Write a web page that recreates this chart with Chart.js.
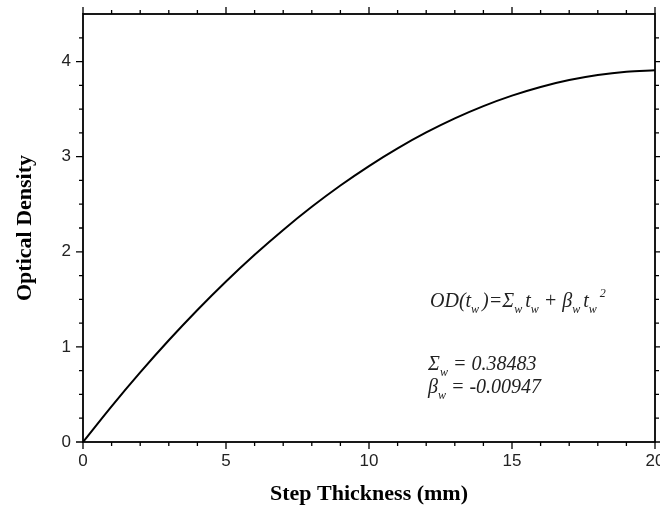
<!DOCTYPE html>
<html>
<head>
<meta charset="utf-8">
<script src="https://cdn.jsdelivr.net/npm/chart.js@4.4.1/dist/chart.umd.min.js"></script>
<style>
  html, body { margin: 0; padding: 0; background: #fff; }
  #wrap { width: 660px; height: 508px; }
</style>
</head>
<body>
<div id="wrap"><canvas id="odChart" width="660" height="508"></canvas></div>
<script>
// step thickness (mm) and measured optical density
const thickness = [0, 1, 2, 3, 4, 5, 6, 7, 8, 9, 10, 11, 12, 13, 14, 15, 16, 17, 18, 19, 20];
const density = [0, 0.3754, 0.7318, 1.0693, 1.3878, 1.6874, 1.9681, 2.2298, 2.4726, 2.6964,
  2.9013, 3.0873, 3.2543, 3.4024, 3.5315, 3.6417, 3.7330, 3.8053, 3.8587, 3.8931, 3.9086];

const xTicks = [0, 5, 10, 15, 20];
const yTicks = [0, 1, 2, 3, 4];
const xMinor = [1, 2, 3, 4, 6, 7, 8, 9, 11, 12, 13, 14, 16, 17, 18, 19];
const yMinor = [0.25, 0.5, 0.75, 1.25, 1.5, 1.75, 2.25, 2.5, 2.75, 3.25, 3.5, 3.75, 4.25];

const sigmaW = '0.38483';
const betaW = '-0.00947';

const points = thickness.map((t, i) => ({ x: t, y: density[i] }));

// frame with outward ticks on all four sides
const framePlugin = {
  id: 'frame',
  afterDraw(chart) {
    const { ctx, chartArea: a, scales: { x, y } } = chart;
    ctx.save();
    ctx.strokeStyle = '#000';
    ctx.lineWidth = 1.8;
    ctx.strokeRect(a.left, a.top, a.right - a.left, a.bottom - a.top);
    ctx.lineWidth = 1.3;
    ctx.beginPath();
    const tickX = (v, len) => {
      const px = x.getPixelForValue(v);
      ctx.moveTo(px, a.bottom); ctx.lineTo(px, a.bottom + len);
      ctx.moveTo(px, a.top); ctx.lineTo(px, a.top - len);
    };
    const tickY = (v, len) => {
      const py = y.getPixelForValue(v);
      ctx.moveTo(a.left, py); ctx.lineTo(a.left - len, py);
      ctx.moveTo(a.right, py); ctx.lineTo(a.right + len, py);
    };
    xTicks.forEach(v => tickX(v, 7));
    xMinor.forEach(v => tickX(v, 4));
    yTicks.forEach(v => tickY(v, 7));
    yMinor.forEach(v => tickY(v, 4));
    ctx.stroke();
    ctx.restore();
  }
};

// fit equation and coefficients, italic with sub/superscripts
function drawRuns(ctx, runs, x0, base, size) {
  let x = x0;
  runs.forEach(([txt, kind]) => {
    let s = size, dy = 0;
    if (kind === 'sub') { s = size * 0.6; dy = 6; }
    if (kind === 'sup') { s = size * 0.6; dy = -10; }
    ctx.font = 'italic ' + s + 'px "Liberation Serif", "Times New Roman", serif';
    ctx.fillText(txt, x, base + dy);
    x += ctx.measureText(txt).width;
  });
}

const formulaPlugin = {
  id: 'formula',
  afterDraw(chart) {
    const ctx = chart.ctx;
    ctx.save();
    ctx.fillStyle = '#222';
    ctx.textBaseline = 'alphabetic';
    drawRuns(ctx, [['OD(t', ''], ['w ', 'sub'], [')=\u03A3', ''], ['w ', 'sub'], ['t', ''], ['w', 'sub'],
      [' + \u03B2', ''], ['w ', 'sub'], ['t', ''], ['w ', 'sub'], ['2', 'sup']], 430, 307, 20);
    drawRuns(ctx, [['\u03A3', ''], ['w', 'sub'], [' = ' + sigmaW, '']], 428, 370, 20);
    drawRuns(ctx, [['\u03B2', ''], ['w', 'sub'], [' = ' + betaW, '']], 428, 393, 20);
    ctx.restore();
  }
};

new Chart(document.getElementById('odChart'), {
  type: 'line',
  data: {
    datasets: [{
      data: points,
      borderColor: '#000',
      borderWidth: 2,
      pointRadius: 0,
      fill: false,
      cubicInterpolationMode: 'monotone'
    }]
  },
  options: {
    responsive: false,
    animation: false,
    layout: { padding: { left: 0, right: 5, top: 14, bottom: 0 } },
    plugins: { legend: { display: false }, tooltip: { enabled: false } },
    scales: {
      x: {
        type: 'linear',
        min: 0,
        max: 20,
        grid: { display: false, drawTicks: false },
        border: { display: false },
        afterBuildTicks: s => { s.ticks = xTicks.map(v => ({ value: v })); },
        afterFit: s => { s.height = 66; s.paddingLeft = 0; s.paddingRight = 0; },
        ticks: {
          padding: 9,
          color: '#222',
          maxRotation: 0,
          font: { family: '"Liberation Sans", Arial, sans-serif', size: 17 }
        },
        title: {
          display: true,
          text: 'Step Thickness (mm)',
          color: '#000',
          padding: { top: 0, bottom: 3 },
          font: { family: '"Liberation Serif", "Times New Roman", serif', size: 22, weight: 'bold', lineHeight: 1 }
        }
      },
      y: {
        type: 'linear',
        min: 0,
        max: 4.5,
        grid: { display: false, drawTicks: false },
        border: { display: false },
        afterBuildTicks: s => { s.ticks = yTicks.map(v => ({ value: v })); },
        afterFit: s => { s.width = 83; s.paddingTop = 0; s.paddingBottom = 0; },
        ticks: {
          padding: 12,
          color: '#222',
          font: { family: '"Liberation Sans", Arial, sans-serif', size: 17 }
        },
        title: {
          display: true,
          text: 'Optical Density',
          color: '#000',
          padding: { top: 14, bottom: 0 },
          font: { family: '"Liberation Serif", "Times New Roman", serif', size: 22, weight: 'bold', lineHeight: 1 }
        }
      }
    }
  },
  plugins: [framePlugin, formulaPlugin]
});
</script>
</body>
</html>
